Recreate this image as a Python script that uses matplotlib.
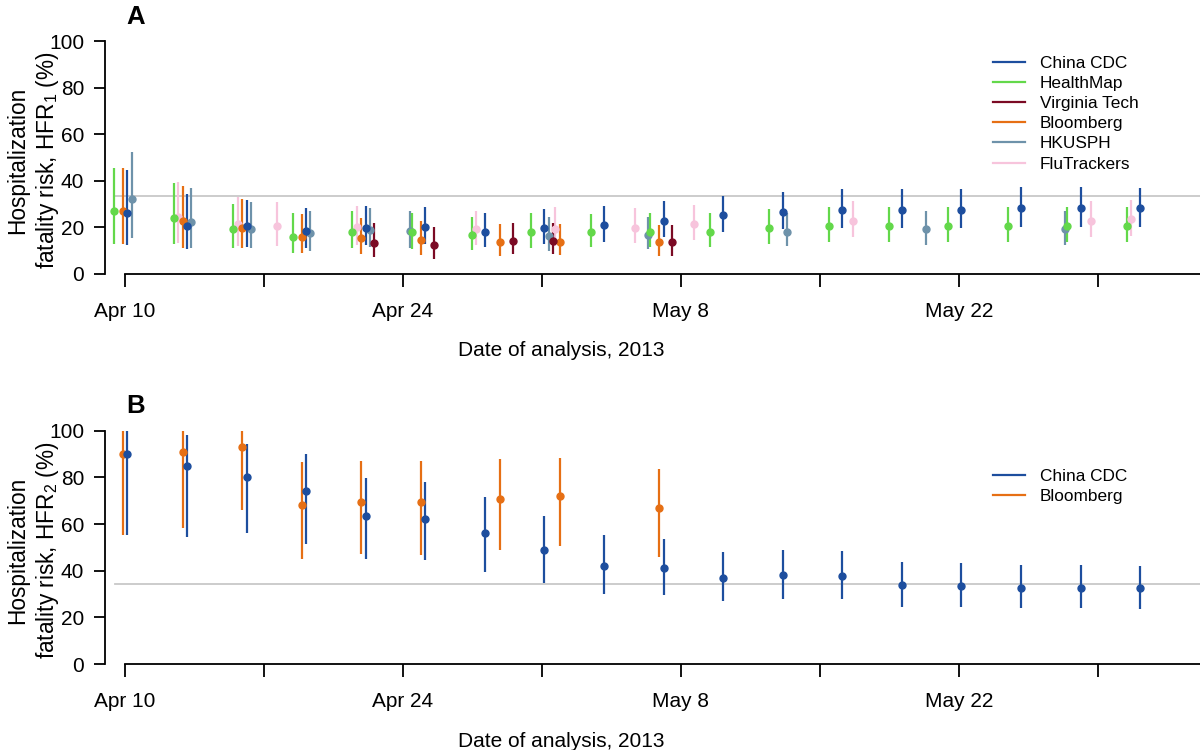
import matplotlib
matplotlib.use('Agg')
import matplotlib.pyplot as plt
import matplotlib.dates as mdates
from matplotlib.lines import Line2D
import numpy as np

plt.rcParams['font.family'] = ['Liberation Sans', 'DejaVu Sans']
plt.rcParams['mathtext.fontset'] = 'custom'
plt.rcParams['mathtext.rm'] = 'Liberation Sans'
plt.rcParams['mathtext.it'] = 'Liberation Sans:italic'

# ---- data: days after Apr 10 2013, estimate, lower, upper ----
sources = ['China CDC', 'HealthMap', 'Virginia Tech', 'Bloomberg', 'HKUSPH', 'FluTrackers']
colors = {'China CDC': '#1d4e9e', 'HealthMap': '#63d84a', 'Virginia Tech': '#7b0a24',
          'Bloomberg': '#e66f14', 'HKUSPH': '#6e92aa', 'FluTrackers': '#f7c4dc'}
# small horizontal shift (days) so that sources do not overlap
shift = {'China CDC': 0.12, 'HealthMap': -0.55, 'Virginia Tech': 0.55,
         'Bloomberg': -0.1, 'HKUSPH': 0.33, 'FluTrackers': -0.33}

start = '2013-04-10'

hfr1 = {
    'China CDC': dict(
        day=[0, 3, 6, 9, 12, 15, 18, 21, 24, 27, 30, 33, 36, 39, 42, 45, 48, 51],
        est=[26.4, 20.6, 20.6, 18.5, 19.9, 20.2, 18.2, 19.6, 21.1, 22.9, 25.2, 26.8, 27.5, 27.5, 27.5, 28.4, 28.4, 28.2],
        lo=[12.5, 10.6, 11.7, 11.0, 12.5, 12.9, 11.7, 12.7, 13.9, 15.8, 17.9, 19.2, 19.8, 19.8, 19.8, 20.3, 20.3, 20.3],
        hi=[44.7, 34.2, 31.7, 28.2, 29.4, 28.9, 26.4, 27.9, 29.2, 31.4, 33.7, 35.4, 36.4, 36.4, 36.4, 37.3, 37.3, 36.8]),
    'HealthMap': dict(
        day=[0, 3, 6, 9, 12, 15, 18, 21, 24, 27, 30, 33, 36, 39, 42, 45, 48, 51],
        est=[27.1, 24.1, 19.2, 16.0, 18.2, 17.9, 16.8, 17.9, 17.9, 18.2, 18.2, 19.9, 20.8, 20.8, 20.8, 20.8, 20.6, 20.6],
        lo=[12.9, 12.9, 11.0, 9.2, 11.0, 10.7, 10.3, 11.3, 11.4, 11.7, 11.7, 13.0, 13.7, 13.7, 13.7, 13.7, 13.7, 13.7],
        hi=[45.7, 39.0, 30.1, 26.1, 27.1, 26.1, 24.6, 26.1, 25.6, 26.1, 26.1, 27.9, 28.9, 28.9, 28.9, 28.9, 28.6, 28.6]),
    'Virginia Tech': dict(
        day=[12, 15, 19, 21, 27],
        est=[13.5, 12.3, 14.3, 14.3, 13.6],
        lo=[7.2, 6.4, 8.4, 8.4, 7.9],
        hi=[22.1, 20.2, 22.1, 21.8, 21.1]),
    'Bloomberg': dict(
        day=[0, 3, 6, 9, 12, 15, 19, 22, 27],
        est=[27.1, 22.6, 19.9, 16.0, 15.3, 14.6, 13.6, 13.9, 13.6],
        lo=[12.9, 11.0, 11.0, 8.9, 8.6, 8.2, 7.9, 8.2, 7.9],
        hi=[45.7, 38.0, 32.2, 25.6, 23.9, 22.8, 21.3, 21.3, 21.1]),
    'HKUSPH': dict(
        day=[0, 3, 6, 9, 12, 14, 21, 26, 33, 40, 47],
        est=[32.1, 22.5, 19.5, 17.5, 18.9, 18.5, 16.3, 16.8, 18.2, 19.2, 19.2],
        lo=[15.3, 11.0, 11.0, 10.0, 11.7, 11.3, 10.0, 10.6, 12.0, 12.5, 12.5],
        hi=[52.6, 36.8, 30.9, 27.2, 28.2, 27.1, 24.4, 24.6, 26.1, 27.1, 27.1]),
    'FluTrackers': dict(
        day=[3, 6, 8, 12, 18, 22, 26, 29, 37, 49, 51],
        est=[24.6, 21.5, 20.8, 20.1, 19.2, 19.5, 19.9, 21.5, 22.9, 22.9, 23.6],
        lo=[13.2, 12.0, 12.2, 12.5, 12.5, 12.0, 13.2, 14.6, 15.8, 15.8, 16.3],
        hi=[39.7, 33.2, 31.1, 29.4, 27.2, 28.7, 28.2, 29.7, 31.5, 31.2, 31.8]),
}

hfr2 = {
    'China CDC': dict(
        day=[0, 3, 6, 9, 12, 15, 18, 21, 24, 27, 30, 33, 36, 39, 42, 45, 48, 51],
        est=[90.1, 84.7, 80.0, 74.0, 63.6, 62.1, 56.0, 49.0, 42.1, 41.0, 37.0, 38.1, 37.9, 33.7, 33.4, 32.7, 32.7, 32.4],
        lo=[55.3, 54.3, 56.0, 51.3, 44.9, 44.6, 39.6, 34.6, 29.9, 29.6, 27.0, 27.9, 27.9, 24.6, 24.3, 23.9, 23.9, 23.6],
        hi=[100, 98.3, 94.3, 90.0, 79.9, 77.9, 71.7, 63.6, 55.3, 53.4, 48.1, 48.9, 48.6, 43.6, 43.1, 42.3, 42.3, 42.0]),
    'Bloomberg': dict(
        day=[0, 3, 6, 9, 12, 15, 19, 22, 27],
        est=[90.1, 91.0, 93.0, 68.1, 69.6, 69.6, 70.9, 72.0, 66.7],
        lo=[55.3, 58.4, 66.0, 44.9, 47.0, 46.9, 48.9, 50.6, 46.0],
        hi=[100, 100, 100, 86.6, 87.0, 87.0, 87.7, 88.2, 83.7]),
}

ref1 = 33.5
ref2 = 34.3

tick_days = [0, 7, 14, 21, 28, 35, 42, 49, 56]
tick_labels = ['Apr 10', '', 'Apr 24', '', 'May 8', '', 'May 22', '', '']

# ---- figure ----
W, H = 1200, 750
fig = plt.figure(figsize=(12, 7.5), dpi=100)
base = mdates.datestr2num(start)
px_day = 139 / 7.0


def fx(px):
    return px / W


def fy(py):
    return 1 - py / H


def panel(ax, data, ref, order, legend_names, ylab, leg_top):
    for name in order:
        d = data[name]
        x = base + np.array(d['day']) + shift[name]
        est = np.array(d['est'])
        lo = np.array(d['lo'])
        hi = np.array(d['hi'])
        ax.errorbar(x, est, yerr=[est - lo, hi - est], fmt='o', color=colors[name],
                    ms=5, elinewidth=1.6, capsize=0, clip_on=False, zorder=3)
    ax.axhline(ref, xmin=0.009, color='#c8c8c8', lw=1.3, zorder=1)
    for s in ['top', 'right']:
        ax.spines[s].set_visible(False)
    ax.spines['left'].set_bounds(0, 100)
    ax.spines['bottom'].set_bounds(base, base + 56)
    for s in ['left', 'bottom']:
        ax.spines[s].set_linewidth(1.3)
    ax.set_yticks([0, 20, 40, 60, 80, 100])
    ax.set_xticks(base + np.array(tick_days))
    ax.set_xticklabels(tick_labels)
    ax.set_ylim(0, 100)
    ax.set_xlim(base + (105 - 125) / px_day, base + (1200 - 125) / px_day)
    ax.tick_params(axis='y', length=8, width=1.3, pad=7, labelsize=15)
    ax.tick_params(axis='x', length=9.4, width=1.3, pad=11, labelsize=15)
    ax.set_xlabel('Date of analysis, 2013', fontsize=15)
    ax.xaxis.set_label_coords((561 - 105) / (W - 105), -0.29)
    handles = [Line2D([], [], color=colors[n], lw=1.6) for n in legend_names]
    ax.legend(handles, legend_names, loc='upper left', frameon=False, fontsize=12.4,
              handlelength=1.86, handletextpad=0.87, labelspacing=0.3,
              borderpad=0, borderaxespad=0,
              bbox_to_anchor=(fx(993), leg_top), bbox_transform=fig.transFigure)
    pos = ax.get_position()
    fig.text(fx(34), (pos.y0 + pos.y1) / 2 - 0.004, ylab,
             rotation=90, ha='center', va='center', fontsize=16.3, linespacing=1.25)


axA = fig.add_axes([fx(105), fy(274), 1 - fx(105), (274 - 41.3) / H])
axB = fig.add_axes([fx(105), fy(664), 1 - fx(105), (664 - 430.7) / H])

order1 = ['FluTrackers', 'HKUSPH', 'Bloomberg', 'Virginia Tech', 'HealthMap', 'China CDC']
panel(axA, hfr1, ref1, order1, sources,
      'Hospitalization\nfatality risk, HFR$_1$ (%)', fy(55.5))
panel(axB, hfr2, ref2, ['Bloomberg', 'China CDC'], ['China CDC', 'Bloomberg'],
      'Hospitalization\nfatality risk, HFR$_2$ (%)', fy(468.5))

fig.text(fx(126), fy(24), 'A', fontsize=18.5, fontweight='heavy', ha='left', va='baseline')
fig.text(fx(126), fy(413), 'B', fontsize=18.5, fontweight='heavy', ha='left', va='baseline')

fig.savefig('out.png', dpi=100)
